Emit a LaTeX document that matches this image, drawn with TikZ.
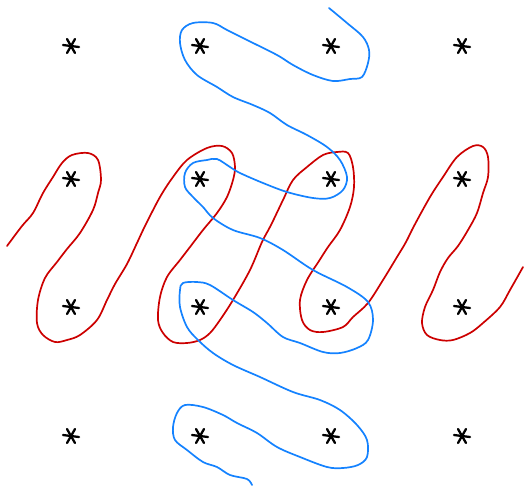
\documentclass[tikz,border=0pt]{standalone}
\usepackage{tikz}
\definecolor{loopred}{RGB}{204, 0, 0}
\definecolor{loopblue}{RGB}{20, 130, 255}
\definecolor{markcolor}{RGB}{0, 0, 0}
\tikzset{
redloop/.style={
  draw=loopred,
  line width=1.7pt,
  line cap=round,
  line join=round
},
blueloop/.style={
  draw=loopblue,
  line width=1.7pt,
  line cap=round,
  line join=round
},
starline/.style={
  draw=markcolor,
  line width=2.3pt,
  line cap=round
},
asterisk/.pic={
  \draw[starline] (-8,-1) -- (8,1);
  \draw[starline] (-4,-7) -- (4,7);
  \draw[starline] (4,-7) -- (-4,7);
}
}

\begin{document}
\begin{tikzpicture}[x=1pt, y=-1pt]
      \useasboundingbox (0,0) rectangle (524,488);

      % Grid of points
      \foreach \r/\y in {1/46, 2/179, 3/307, 4/436} {
        \foreach \c/\x in {1/71, 2/200, 3/331, 4/462} {
          \coordinate (s\r\c) at (\x,\y);
          \pic at (s\r\c) {asterisk};
        }
      }

      % Red snake
      \draw[redloop] plot[smooth, tension=0.55] coordinates {
        (7,246) (22,226) (33,213) (43,193) (53,177) (62,163) (72,155) (88,153)
        (98,160) (101,180) (98,193) (93,210) (80,233) (67,249) (57,262) (45,278)
        (38,300) (37,323) (43,335) (55,342) (67,340) (80,335) (97,320) (107,300)
        (115,284) (127,264) (137,243) (145,226) (160,197) (173,177) (187,160)
        (207,148) (222,146) (232,153) (235,167) (233,180) (227,197) (217,213)
        (203,230) (190,247) (180,260) (167,277) (160,297) (158,320) (163,333)
        (173,342) (187,343) (200,340) (210,333) (220,320) (233,300) (250,270)
        (262,242) (271,225) (283,200) (293,180) (307,167) (323,155) (337,152)
        (348,153) (353,167) (354,187) (350,207) (340,230) (328,247) (319,261)
        (307,280) (300,300) (302,320) (310,330) (323,332) (343,327) (353,317)
        (368,303) (383,280) (397,257) (406,242) (414,226) (430,197) (443,177)
        (457,157) (473,146) (483,147) (488,157) (488,177) (483,193) (477,213)
        (468,230) (458,246) (448,258) (440,272) (433,290) (425,307) (422,323)
        (427,335) (440,340) (453,340) (470,333) (483,323) (500,307) (510,290)
        (523,267)
      };

      % Blue snake
      \draw[blueloop] plot[smooth, tension=0.55] coordinates {
        (329,8) (347,23) (363,37) (369,50) (368,63) (362,77) (350,79) (333,81)
        (313,75) (293,65) (277,55) (247,40) (227,30) (213,23) (193,23) (182,30)
        (180,43) (185,60) (197,75) (217,87) (233,97) (253,105) (270,113)
        (287,125) (307,135) (327,147) (340,160) (347,177) (343,190) (330,198)
        (313,198) (287,192) (263,183) (240,173) (230,167) (217,159) (207,160)
        (193,163) (185,173) (185,187) (193,197) (203,207) (213,218) (233,230)
        (260,238) (283,250) (313,270) (347,287) (368,302) (373,320) (368,340)
        (357,348) (340,353) (323,352) (300,343) (283,337) (267,323) (253,312)
        (233,300) (210,285) (197,282) (183,283) (180,290) (180,307) (187,327)
        (198,340) (213,353) (233,365) (260,377) (293,392) (320,400) (340,410)
        (357,425) (367,440) (367,457) (358,465) (343,468) (327,467) (300,457)
        (277,447) (257,433) (237,423) (223,415) (203,407) (185,405) (177,413)
        (173,427) (175,440) (187,450) (203,462) (217,467) (230,475) (247,479)
        (252,485)
      };
\end{tikzpicture}
\end{document}
